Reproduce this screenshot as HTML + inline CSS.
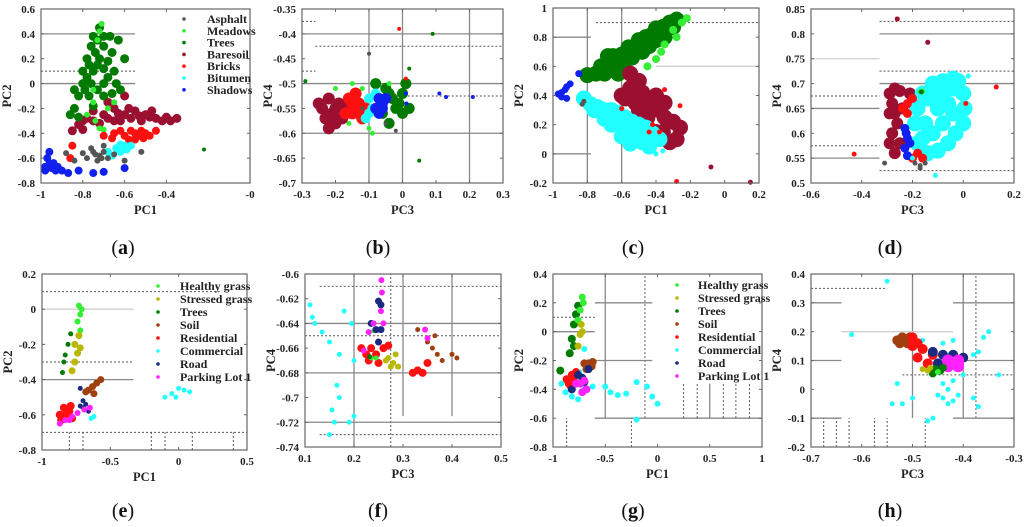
<!DOCTYPE html>
<html><head><meta charset="utf-8">
<style>
html,body{margin:0;padding:0;background:#fff;}
svg{display:block;}
svg text{font-family:"Liberation Serif","DejaVu Serif",serif;}
.tick{font-size:11px;font-weight:bold;fill:#222;}
.axl{font-size:12.5px;font-weight:bold;fill:#222;}
.leg{font-size:12px;font-weight:bold;fill:#222;}
.plab{font-size:20px;fill:#111;}
</style></head><body>
<svg id="fig" width="1024" height="527" viewBox="0 0 1024 527"></svg>
<script>
// ---------- data (PC coordinates) ----------
const classesA = ["Asphalt","Meadows","Trees","Baresoil","Bricks","Bitumen","Shadows"];
const classesB = ["Healthy grass","Stressed grass","Trees","Soil","Residential","Commercial","Road","Parking Lot 1"];
const colorsA = ["#555555","#33ee33","#007a00","#9b1030","#ff1010","#22ffff","#1020ee"];
const colorsB = ["#33ee33","#b8b800","#007a00","#a04010","#ff1010","#22ffff","#1a2a80","#ff22ff"];

// panel a: PC1 vs PC2
const dataA_asphalt  = "-0.75 -0.55;-0.72 -0.58;-0.7 -0.55;-0.73 -0.62;-0.78 -0.6;-0.68 -0.6;-0.8 -0.56;-0.88 -0.56;-0.6 -0.62;-0.52 -0.55;-0.84 -0.62;-0.76 -0.52;-0.7 -0.5;-0.65 -0.57;-0.74 -0.57;-0.71 -0.6";
const dataA_meadows  = "-0.71 0.48;-0.72 0.42;-0.73 0.35;-0.75 -0.15;-0.74 -0.3;-0.72 -0.36;-0.68 -0.2;-0.65 -0.15;-0.75 -0.05;-0.7 -0.37;-0.78 -0.25";
const dataA_trees    = "-0.72 0.45;-0.73 0.35;-0.76 0.3;-0.7 0.3;-0.78 0.2;-0.72 0.2;-0.66 0.25;-0.8 0.1;-0.75 0.1;-0.7 0.12;-0.65 0.1;-0.8 0;-0.76 0;-0.7 0;-0.64 0;-0.82 -0.1;-0.77 -0.1;-0.7 -0.1;-0.62 -0.05;-0.84 -0.2;-0.82 -0.27;-0.6 0.2;-0.67 0.38;-0.74 0.25;-0.78 0.05;-0.73 -0.05;-0.86 -0.25;-0.68 0.18;-0.75 0.38;-0.7 0.38;-0.77 0.15;-0.73 0.15;-0.68 0.05;-0.79 -0.05;-0.75 -0.18;-0.66 -0.08;-0.84 -0.05;-0.63 0.35";
const dataA_trees_out = "-0.22 -0.53";
const dataA_baresoil = "-0.85 -0.38;-0.82 -0.33;-0.78 -0.28;-0.75 -0.22;-0.7 -0.25;-0.65 -0.2;-0.6 -0.25;-0.55 -0.22;-0.5 -0.25;-0.45 -0.28;-0.4 -0.27;-0.35 -0.28;-0.72 -0.32;-0.62 -0.3;-0.52 -0.3;-0.68 -0.15;-0.6 -0.1;-0.8 -0.37;-0.65 -0.3;-0.57 -0.28;-0.47 -0.22;-0.42 -0.3;-0.75 -0.3;-0.68 -0.28;-0.58 -0.2;-0.53 -0.26;-0.48 -0.27;-0.38 -0.3;-0.8 -0.3;-0.63 -0.24";
const dataA_bricks   = "-0.7 -0.42;-0.65 -0.4;-0.6 -0.42;-0.55 -0.4;-0.52 -0.38;-0.5 -0.4;-0.58 -0.45;-0.48 -0.42;-0.62 -0.38;-0.85 -0.5;-0.86 -0.6;-0.45 -0.38;-0.55 -0.45;-0.66 -0.44;-0.53 -0.42;-0.57 -0.38;-0.51 -0.44";
const dataA_bitumen  = "-0.68 -0.55;-0.64 -0.52;-0.6 -0.5;-0.57 -0.5;-0.62 -0.55;-0.66 -0.58;-0.59 -0.53;-0.62 -0.49";
const dataA_shadows  = "-0.98 -0.7;-0.95 -0.68;-0.92 -0.67;-0.96 -0.65;-0.97 -0.6;-0.96 -0.55;-0.93 -0.7;-0.9 -0.7;-0.87 -0.72;-0.82 -0.7;-0.75 -0.72;-0.7 -0.71;-0.6 -0.68;-0.94 -0.64;-0.98 -0.67";

// panel b: PC3 vs PC4
const dataB_asphalt  = "-0.1 -0.44;-0.02 -0.595;-0.12 -0.55;-0.05 -0.58";
const dataB_meadows  = "-0.2 -0.51;-0.15 -0.5;-0.1 -0.59;-0.09 -0.6;-0.04 -0.5;-0.16 -0.58;-0.12 -0.51";
const dataB_trees    = "-0.05 -0.51;0 -0.52;-0.02 -0.55;0 -0.56;-0.04 -0.58;0.01 -0.5;-0.08 -0.5;-0.03 -0.53;-0.06 -0.56;0.02 -0.55;-0.01 -0.54;-0.04 -0.52";
const dataB_trees_out = "0.02 -0.47;0.09 -0.4;0.05 -0.655;-0.29 -0.495";
const dataB_baresoil = "-0.24 -0.55;-0.22 -0.53;-0.21 -0.56;-0.19 -0.54;-0.2 -0.58;-0.23 -0.57;-0.18 -0.57;-0.25 -0.54;-0.22 -0.59;-0.2 -0.55;-0.17 -0.55";
const dataB_bricks   = "-0.16 -0.53;-0.15 -0.56;-0.13 -0.54;-0.12 -0.57;-0.14 -0.52;-0.11 -0.55;-0.17 -0.56;-0.13 -0.56;-0.15 -0.54";
const dataB_bricks_out = "-0.01 -0.39;0.01 -0.49";
const dataB_bitumen  = "-0.1 -0.53;-0.09 -0.55;-0.1 -0.56;-0.08 -0.52;-0.11 -0.57";
const dataB_shadows  = "-0.07 -0.53;-0.06 -0.55;-0.07 -0.56;-0.05 -0.53;-0.08 -0.55;-0.06 -0.54";
const dataB_shadows_out = "0.11 -0.52;0.13 -0.527;0.21 -0.527;0.01 -0.52;0.012 -0.54";

// panel c: PC1 vs PC2
const dataC_asphalt  = "-0.83 0.34;-0.82 0.36";
const dataC_meadows  = "-0.3 0.85;-0.25 0.9;-0.22 0.93;-0.35 0.75;-0.4 0.65;-0.45 0.6;-0.55 0.55;-0.37 0.7;-0.28 0.8";
const dataC_trees    = "-0.8 0.54;-0.75 0.55;-0.72 0.6;-0.68 0.62;-0.65 0.67;-0.6 0.68;-0.62 0.63;-0.56 0.73;-0.52 0.72;-0.5 0.78;-0.46 0.8;-0.42 0.82;-0.4 0.86;-0.36 0.87;-0.32 0.9;-0.28 0.92;-0.58 0.64;-0.54 0.66;-0.48 0.7;-0.44 0.74;-0.4 0.78;-0.35 0.8;-0.7 0.55;-0.66 0.58;-0.62 0.55;-0.3 0.87;-0.68 0.67";
const dataC_baresoil = "-0.6 0.4;-0.55 0.45;-0.5 0.5;-0.48 0.42;-0.45 0.38;-0.42 0.33;-0.38 0.3;-0.35 0.25;-0.3 0.22;-0.26 0.18;-0.28 0.1;-0.32 0.08;-0.4 0.15;-0.45 0.25;-0.52 0.35;-0.58 0.38;-0.5 0.3;-0.36 0.15;-0.4 0.4;-0.55 0.55;-0.35 0.35";
const dataC_baresoil_out = "-0.08 -0.09;0.15 -0.195";
const dataC_bricks   = "-0.6 0.31;-0.42 0.2;-0.38 0.15;-0.44 0.15;-0.26 0.33;-0.28 -0.19;-0.35 0.44";
const dataC_bitumen  = "-0.82 0.38;-0.78 0.34;-0.74 0.32;-0.7 0.3;-0.66 0.3;-0.62 0.28;-0.58 0.25;-0.54 0.22;-0.5 0.2;-0.46 0.18;-0.42 0.14;-0.5 0.1;-0.55 0.07;-0.6 0.12;-0.66 0.2;-0.7 0.24;-0.76 0.3;-0.56 0.16;-0.62 0.2;-0.48 0.08;-0.44 0.05;-0.38 0.1";
const dataC_bitumen_out = "-0.36 0.02;-0.4 0.0;-0.45 0.03";
const dataC_shadows  = "-0.97 0.41;-0.95 0.42;-0.93 0.44;-0.95 0.39;-0.92 0.38;-0.92 0.46;-0.9 0.48;-0.85 0.55";

// panel d: PC3 vs PC4
const dataD_asphalt  = "-0.19 0.54;-0.17 0.535;-0.15 0.54;-0.31 0.54;-0.17 0.53";
const dataD_meadows  = "-0.17 0.684;-0.16 0.685";
const dataD_trees    = "-0.165 0.683";
const dataD_baresoil = "-0.29 0.68;-0.27 0.69;-0.25 0.685;-0.29 0.64;-0.28 0.6;-0.27 0.56;-0.25 0.58;-0.26 0.62;-0.24 0.65;-0.28 0.66;-0.29 0.58;-0.21 0.68;-0.2 0.66;-0.27 0.64";
const dataD_baresoil_out = "-0.26 0.83;-0.14 0.783";
const dataD_bricks   = "-0.24 0.65;-0.22 0.66;-0.2 0.67;-0.22 0.64;-0.2 0.55;-0.18 0.56;-0.16 0.55";
const dataD_bricks_out = "-0.43 0.558;0.13 0.693;0.01 0.66";
const dataD_bitumen  = "-0.18 0.65;-0.16 0.68;-0.12 0.7;-0.08 0.705;-0.04 0.71;-0.02 0.705;0 0.68;0.005 0.65;0 0.62;-0.03 0.6;-0.06 0.58;-0.1 0.565;-0.14 0.56;-0.18 0.58;-0.19 0.62;-0.15 0.62;-0.1 0.65;-0.06 0.66;-0.12 0.6;-0.08 0.62;-0.04 0.64;-0.14 0.67;-0.03 0.69;-0.1 0.68;-0.06 0.69;-0.16 0.59";
const dataD_bitumen_out = "-0.11 0.515;0.02 0.715;-0.2 0.55";
const dataD_shadows  = "-0.23 0.61;-0.22 0.59;-0.23 0.57;-0.22 0.555;-0.225 0.6;-0.21 0.58";

// panel e: PC1 vs PC2
const dataE_healthy  = "-0.73 0.02;-0.72 -0.03;-0.74 -0.07;-0.72 -0.12;-0.71 0";
const dataE_stressed = "-0.76 -0.2;-0.74 -0.25;-0.76 -0.3;-0.78 -0.35;-0.72 -0.22;-0.73 -0.15";
const dataE_trees    = "-0.85 -0.36;-0.84 -0.3;-0.83 -0.26;-0.81 -0.2;-0.79 -0.14";
const dataE_soil     = "-0.66 -0.46;-0.63 -0.44;-0.6 -0.42;-0.57 -0.4;-0.68 -0.47;-0.62 -0.48";
const dataE_resid    = "-0.86 -0.63;-0.83 -0.6;-0.8 -0.58;-0.84 -0.56;-0.78 -0.62;-0.87 -0.6;-0.79 -0.55";
const dataE_commer   = "-0.1 -0.5;-0.05 -0.48;0 -0.45;0.04 -0.46;0.08 -0.47;-0.02 -0.5;-0.64 -0.62;-0.62 -0.61";
const dataE_road     = "-0.72 -0.55;-0.7 -0.56;-0.68 -0.54;-0.72 -0.45;-0.7 -0.52;-0.66 -0.58";
const dataE_parking  = "-0.87 -0.65;-0.83 -0.63;-0.78 -0.61;-0.74 -0.59;-0.69 -0.57;-0.65 -0.56;-0.8 -0.63";

// panel f: PC3 vs PC4
const dataF_healthy  = "0.235 -0.668;0.245 -0.668;0.24 -0.646";
const dataF_stressed = "0.27 -0.668;0.28 -0.672;0.29 -0.675;0.275 -0.675;0.265 -0.67;0.285 -0.665";
const dataF_trees    = "0.232 -0.667";
const dataF_soil     = "0.35 -0.655;0.36 -0.66;0.37 -0.665;0.38 -0.67;0.4 -0.665;0.41 -0.668;0.365 -0.65;0.33 -0.645";
const dataF_resid    = "0.215 -0.66;0.225 -0.665;0.235 -0.66;0.245 -0.665;0.26 -0.66;0.27 -0.658;0.23 -0.67;0.25 -0.672;0.33 -0.678;0.34 -0.68;0.35 -0.672;0.32 -0.68";
const dataF_commer   = "0.11 -0.625;0.115 -0.635;0.12 -0.64;0.135 -0.647;0.15 -0.655;0.17 -0.665;0.18 -0.63;0.195 -0.64;0.2 -0.67;0.165 -0.69;0.17 -0.7;0.155 -0.71;0.16 -0.72;0.15 -0.73;0.19 -0.72;0.2 -0.715";
const dataF_road     = "0.235 -0.64;0.245 -0.645;0.255 -0.645;0.25 -0.655;0.25 -0.622;0.255 -0.625";
const dataF_parking  = "0.256 -0.605;0.257 -0.615;0.255 -0.63;0.24 -0.64;0.26 -0.64;0.23 -0.647;0.22 -0.662;0.345 -0.645;0.35 -0.652";

// panel g: PC1 vs PC2
const dataG_healthy  = "-0.72 0.24;-0.74 0.15;-0.76 0.08;-0.71 0.2";
const dataG_stressed = "-0.73 0.05;-0.74 -0.02;-0.76 -0.1;-0.72 0";
const dataG_trees    = "-0.8 0.05;-0.82 -0.05;-0.84 -0.15;-0.78 0.12;-0.76 0.18;-0.8 -0.1;-0.93 -0.27";
const dataG_soil     = "-0.7 -0.22;-0.66 -0.22;-0.63 -0.24;-0.68 -0.26;-0.62 -0.21";
const dataG_resid    = "-0.87 -0.33;-0.85 -0.36;-0.82 -0.3;-0.8 -0.34;-0.78 -0.28;-0.83 -0.38";
const dataG_commer   = "-0.92 -0.36;-0.88 -0.42;-0.82 -0.45;-0.76 -0.47;-0.7 -0.38;-0.62 -0.38;-0.5 -0.38;-0.45 -0.42;-0.38 -0.44;-0.3 -0.43;-0.2 -0.35;-0.1 -0.38;-0.05 -0.45;0 -0.5;-0.7 -0.12;-0.2 -0.61;-0.75 -0.28";
const dataG_road     = "-0.76 -0.3;-0.72 -0.32;-0.66 -0.26;-0.82 -0.4;-0.7 -0.35";
const dataG_parking  = "-0.78 -0.36;-0.74 -0.36;-0.7 -0.34;-0.72 -0.42;-0.68 -0.4";

// panel h: PC3 vs PC4
const dataH_healthy  = "-0.45 0.06";
const dataH_stressed = "-0.48 0.07;-0.47 0.065;-0.465 0.075";
const dataH_trees    = "-0.455 0.07;-0.445 0.065;-0.44 0.075;-0.46 0.055";
const dataH_soil     = "-0.53 0.17;-0.52 0.18;-0.51 0.16;-0.525 0.16;-0.505 0.18";
const dataH_resid    = "-0.5 0.18;-0.49 0.16;-0.48 0.14;-0.49 0.11;-0.47 0.09;-0.46 0.12;-0.5 0.15";
const dataH_commer   = "-0.62 0.19;-0.55 0.375;-0.35 0.2;-0.36 0.18;-0.37 0.13;-0.38 0.12;-0.4 0.05;-0.42 0.03;-0.43 0;-0.44 -0.03;-0.43 -0.05;-0.45 -0.02;-0.47 -0.11;-0.46 -0.1;-0.5 -0.03;-0.52 -0.05;-0.54 -0.05;-0.53 0.02;-0.48 0.17;-0.44 0.16;-0.42 0.17;-0.37 -0.06;-0.33 0.05;-0.38 -0.03;-0.42 -0.04;-0.44 0.02;-0.41 -0.02";
const dataH_road     = "-0.46 0.13;-0.44 0.12;-0.42 0.12;-0.4 0.11;-0.45 0.09";
const dataH_parking  = "-0.43 0.1;-0.42 0.09;-0.41 0.08;-0.43 0.08;-0.41 0.1";

// tick labels
const ticksA_x = ["-1","-0.8","-0.6","-0.4","-0"]; const ticksA_y = [0.6,0.4,0.2,0,-0.2,-0.4,-0.6,-0.8];
const ticksB_x = [-0.3,-0.2,-0.1,0,0.1,0.2,0.3]; const ticksB_y = [-0.35,-0.4,-0.45,-0.5,-0.55,-0.6,-0.65,-0.7];
const ticksC_x = [-1,-0.8,-0.6,-0.4,-0.2,0,0.2]; const ticksC_y = [1,0.8,0.6,0.4,0.2,0,-0.2];
const ticksD_x = [-0.6,-0.4,-0.2,0,0.2]; const ticksD_y = [0.85,0.8,0.75,0.7,0.65,0.6,0.55,0.5];
const ticksE_x = [-1,-0.5,0,0.5]; const ticksE_y = [0.2,0,-0.2,-0.4,-0.6,-0.8];
const ticksF_x = [0.1,0.2,0.3,0.4,0.5]; const ticksF_y = [-0.6,-0.62,-0.64,-0.66,-0.68,-0.7,-0.72,-0.74];
const ticksG_x = [-1,-0.5,0,0.5,1]; const ticksG_y = [0.4,0.2,0,-0.2,-0.4,-0.6,-0.8];
const ticksH_x = [-0.7,-0.6,-0.5,-0.4,-0.3]; const ticksH_y = [0.4,0.3,0.2,0.1,0,-0.1,-0.2];

// ---------- layout (styles / geometry) ----------
const NS = "http://www.w3.org/2000/svg";
const fig = document.getElementById("fig");
function el(tag, attrs, parent){ const e=document.createElementNS(NS,tag); for(const k in attrs) e.setAttribute(k,attrs[k]); (parent||fig).appendChild(e); return e; }
function parse(s){ return s.split(";").map(p=>p.trim().split(/\s+/).map(Number)); }

const panels = [
 {id:"a",box:[41,9,250,183],xd:[-1,0],yd:[-0.8,0.6],xt:ticksA_x,yt:ticksA_y,xl:"PC1",yl:"PC2",lab:[123,247],
  series:[dataA_baresoil,dataA_trees,dataA_meadows,dataA_bricks,dataA_bitumen,dataA_asphalt,dataA_shadows,dataA_trees_out],cols:[3,2,1,4,5,0,6,2],r:[4.5,4.5,3,4,4,3,4,2],
  legend:{names:classesA,colors:colorsA,dx:184,tx:207,y0:19,dy:11.8},
  lines:[[-1,0.4,-0.55,0.4,0],[-1,0,-0.55,0,0],[-1,0.1,-0.55,0.1,1]]},
 {id:"b",box:[302,9,503,183],xd:[-0.3,0.3],yd:[-0.7,-0.35],xt:ticksB_x,yt:ticksB_y,xl:"PC3",yl:"PC4",lab:[378,247],
  series:[dataB_trees,dataB_meadows,dataB_baresoil,dataB_bricks,dataB_bitumen,dataB_shadows,dataB_asphalt,dataB_trees_out,dataB_bricks_out,dataB_shadows_out],cols:[2,1,3,4,5,6,0,2,4,6],r:[5.5,2.5,6,6,5,5.5,2,2,2,2],
  lines:[[-0.1,-0.7,-0.1,-0.35,0],[0,-0.7,0,-0.35,0],[0.2,-0.7,0.2,-0.35,0],[-0.3,-0.4,0.3,-0.4,0],[-0.3,-0.5,0.3,-0.5,0],[-0.3,-0.6,0.3,-0.6,0],[-0.26,-0.425,0.3,-0.425,1],[-0.02,-0.525,0.3,-0.525,1],[-0.3,-0.375,-0.26,-0.375,1],[-0.3,-0.475,-0.26,-0.475,1]]},
 {id:"c",box:[553,8,759,183],xd:[-1,0.2],yd:[-0.2,1],xt:ticksC_x,yt:ticksC_y,xl:"PC1",yl:"PC2",lab:[633,247],
  series:[dataC_trees,dataC_meadows,dataC_baresoil,dataC_bitumen,dataC_bricks,dataC_asphalt,dataC_shadows,dataC_baresoil_out,dataC_bitumen_out],cols:[2,1,3,5,4,0,6,3,5],r:[8,4,8,8,2.5,2.5,3.5,2.5,2.5],
  lines:[[-0.8,-0.2,-0.8,1,0],[-0.6,-0.2,-0.6,1,0],[-0.75,0.9,0.2,0.9,1],[-1,0.8,-0.78,0.8,0],[-1,0,-0.78,0,0],[-0.4,0.6,0.2,0.6,2]]},
 {id:"d",box:[811,9,1014,183],xd:[-0.6,0.2],yd:[0.5,0.85],xt:ticksD_x,yt:ticksD_y,xl:"PC3",yl:"PC4",lab:[890,247],
  series:[dataD_baresoil,dataD_bitumen,dataD_bricks,dataD_shadows,dataD_asphalt,dataD_meadows,dataD_trees,dataD_baresoil_out,dataD_bricks_out,dataD_bitumen_out],cols:[3,5,4,6,0,1,2,3,4,5],r:[6,8,4.5,4.5,2.5,2.5,2.5,2.5,2.5,2.5],
  lines:[[-0.33,0.8,0.2,0.8,0],[-0.33,0.7,0.2,0.7,0],[-0.33,0.825,0.2,0.825,1],[-0.33,0.725,0.2,0.725,1],[-0.33,0.525,0.2,0.525,1],[-0.6,0.75,-0.33,0.75,2],[-0.6,0.675,-0.33,0.675,1],[-0.6,0.65,-0.33,0.65,0],[-0.6,0.575,-0.33,0.575,1],[-0.6,0.55,-0.33,0.55,0]]},
 {id:"e",box:[42,274,247,450],xd:[-1,0.5],yd:[-0.8,0.2],xt:ticksE_x,yt:ticksE_y,xl:"PC1",yl:"PC2",lab:[123,510],
  series:[dataE_healthy,dataE_stressed,dataE_trees,dataE_soil,dataE_resid,dataE_commer,dataE_road,dataE_parking],cols:[0,1,2,3,4,5,6,7],r:[3,3.5,2.5,3.5,4,2.5,2.5,3],
  legend:{names:classesB,colors:colorsB,dx:158,tx:180,y0:286,dy:13},
  lines:[[-1,0,-0.33,0,2],[-1,-0.4,-0.33,-0.4,0],[-1,0.1,0.3,0.1,1],[-1,-0.3,-0.33,-0.3,1],[-1,-0.7,0.5,-0.7,1],[-0.8,-0.8,-0.8,-0.7,1],[-0.7,-0.8,-0.7,-0.7,1],[-0.2,-0.8,-0.2,-0.7,1],[-0.1,-0.8,-0.1,-0.7,1],[0.1,-0.8,0.1,-0.7,1],[0.4,-0.8,0.4,-0.7,1]]},
 {id:"f",box:[305,274,501,447],xd:[0.1,0.5],yd:[-0.74,-0.6],xt:ticksF_x,yt:ticksF_y,xl:"PC3",yl:"PC4",lab:[378,510],
  series:[dataF_commer,dataF_resid,dataF_stressed,dataF_healthy,dataF_trees,dataF_soil,dataF_road,dataF_parking],cols:[5,4,1,0,2,3,6,7],r:[2.5,4,3,2.5,2.5,2.5,3.5,3],
  lines:[[0.2,-0.74,0.2,-0.6,0],[0.3,-0.715,0.3,-0.6,0],[0.4,-0.715,0.4,-0.6,0],[0.275,-0.74,0.275,-0.6,1],[0.1,-0.64,0.5,-0.64,0],[0.1,-0.68,0.5,-0.68,0],[0.1,-0.72,0.5,-0.72,0],[0.13,-0.61,0.5,-0.61,1],[0.1,-0.65,0.5,-0.65,1],[0.13,-0.73,0.5,-0.73,1]]},
 {id:"g",box:[553,274,762,447],xd:[-1,1],yd:[-0.8,0.4],xt:ticksG_x,yt:ticksG_y,xl:"PC1",yl:"PC2",lab:[633,510],
  series:[dataG_commer,dataG_trees,dataG_healthy,dataG_stressed,dataG_soil,dataG_resid,dataG_road,dataG_parking],cols:[5,2,0,1,3,4,6,7],r:[3,4,3.5,3.5,4,4,4,4],
  legend:{names:classesB,colors:colorsB,dx:677,tx:698,y0:285,dy:13},
  lines:[[-0.5,-0.6,-0.5,0.4,0],[-0.12,-0.6,-0.12,0.4,1],[-0.6,0.2,-0.05,0.2,0],[-0.6,-0.2,-0.05,-0.2,0],[-1,0,-0.6,0,0],[-0.6,-0.6,1,-0.6,0],[-1,0.1,-0.6,0.1,1],[0.5,-0.6,0.5,-0.36,0],[0.25,-0.6,0.25,-0.36,1],[0.38,-0.6,0.38,-0.36,1],[0.63,-0.6,0.63,-0.36,1],[0.75,-0.6,0.75,-0.36,1],[0.88,-0.6,0.88,-0.36,1],[-0.87,-0.8,-0.87,-0.6,1],[-0.25,-0.8,-0.25,-0.6,1]]},
 {id:"h",box:[811,274,1014,447],xd:[-0.7,-0.3],yd:[-0.2,0.4],xt:ticksH_x,yt:ticksH_y,xl:"PC3",yl:"PC4",lab:[890,510],
  series:[dataH_commer,dataH_soil,dataH_resid,dataH_road,dataH_parking,dataH_trees,dataH_stressed,dataH_healthy],cols:[5,3,4,6,7,2,1,0],r:[2.5,5,5,5,6,4,3,3],
  lines:[[-0.5,-0.1,-0.5,0.4,0],[-0.4,-0.1,-0.4,0.4,0],[-0.375,-0.1,-0.375,0.4,1],[-0.64,0.2,-0.42,0.2,2],[-0.7,0.3,-0.64,0.3,0],[-0.7,0.1,-0.64,0.1,0],[-0.7,-0.1,-0.64,-0.1,0],[-0.42,0.3,-0.3,0.3,0],[-0.42,0.1,-0.3,0.1,0],[-0.42,-0.1,-0.3,-0.1,0],[-0.7,0.35,-0.55,0.35,1],[-0.52,0.05,-0.3,0.05,1],[-0.675,-0.2,-0.675,-0.1,1],[-0.65,-0.2,-0.65,-0.1,1],[-0.625,-0.2,-0.625,-0.1,1],[-0.575,-0.2,-0.575,-0.1,1],[-0.55,-0.2,-0.55,-0.1,1],[-0.475,-0.2,-0.475,-0.1,1]]}
];

panels.forEach(p=>{
  const [x0,y0,x1,y1]=p.box;
  const sx=v=>x0+(v-p.xd[0])/(p.xd[1]-p.xd[0])*(x1-x0);
  const sy=v=>y1-(v-p.yd[0])/(p.yd[1]-p.yd[0])*(y1-y0);
  const g=el("g",{});
  
  
  p.lines.forEach(l=>{
    const ln=el("line",{x1:sx(l[0]),y1:sy(l[1]),x2:sx(l[2]),y2:sy(l[3]),stroke:l[4]==2?"#cfcfcf":(l[4]==1?"#555":"#888"),"stroke-width":l[4]==1?1:1.3,"stroke-dasharray":l[4]==1?"2,2":"none"},g);
    
    
  });
  const palette=(p.id<"e"?colorsA:colorsB);
  p.series.forEach((s,i)=>{
    const c=palette[p.cols[i]];
    parse(s).forEach(pt=>{
      const d=el("circle",{cx:sx(pt[0]),cy:sy(pt[1]),r:p.r[i],fill:c},g);
      
      
    });
  });
  const fr=el("rect",{x:x0,y:y0,width:x1-x0,height:y1-y0,fill:"none",stroke:"#666","stroke-width":1.2},g);
  
  
  p.xt.forEach(v=>{
    const X=sx(Number(v));
    el("line",{x1:X,y1:y1,x2:X,y2:y1-3,stroke:"#666"},g);
    el("line",{x1:X,y1:y0,x2:X,y2:y0+3,stroke:"#666"},g);
    const t=el("text",{x:X,y:y1+15,"text-anchor":"middle",class:"tick"},g);
    t.textContent=String(v);
    
    
  });
  p.yt.forEach(v=>{
    const Y=sy(v);
    el("line",{x1:x0,y1:Y,x2:x0+3,y2:Y,stroke:"#666"},g);
    el("line",{x1:x1,y1:Y,x2:x1-3,y2:Y,stroke:"#666"},g);
    const t=el("text",{x:x0-6,y:Y+4,"text-anchor":"end",class:"tick"},g);
    t.textContent=String(v);
    
    
  });
  const xl=el("text",{x:(x0+x1)/2,y:y1+31,"text-anchor":"middle",class:"axl"},g);
  xl.textContent=p.xl;
  
  
  const yl=el("text",{x:x0-30,y:(y0+y1)/2,"text-anchor":"middle",class:"axl",transform:`rotate(-90 ${x0-30} ${(y0+y1)/2})`},g);
  yl.textContent=p.yl;
  
  
  const pl=el("text",{x:p.lab[0],y:p.lab[1]+7,"text-anchor":"middle",class:"plab"},g);
  pl.innerHTML='(<tspan font-weight="bold">'+p.id+'</tspan>)';
  
  
  if(p.legend){
    p.legend.names.forEach((n,i)=>{
      const Y=p.legend.y0+i*p.legend.dy;
      const d=el("circle",{cx:p.legend.dx,cy:Y,r:1.8,fill:p.legend.colors[i]},g);
      
      
      const t=el("text",{x:p.legend.tx,y:Y+4,class:"leg"},g);
      t.textContent=n;
      
      
    });
  }
});
</script>
</body></html>
